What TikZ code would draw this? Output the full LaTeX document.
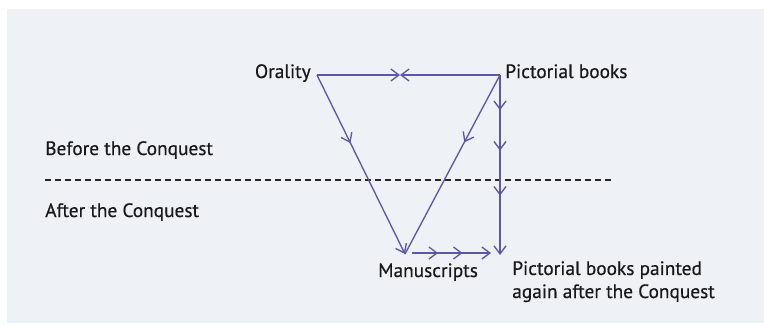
\documentclass[tikz,border=0pt]{standalone}
\usepackage{fontspec}
\setmainfont{PT Sans}[FakeBold=0.5]
\usetikzlibrary{arrows.meta, decorations.markings}
\definecolor{flowline}{RGB}{94,86,166}
\definecolor{paper}{RGB}{238,242,246}
\tikzset{
  barb/.tip={Straight Barb[length=6pt,width=9pt]},
  flow/.style={color=flowline, line width=1pt},
  tipat/.style={postaction={decorate, decoration={markings, mark=at position #1 with {\arrow{barb}}}}},
  txt/.style={inner sep=0pt, anchor=base west, font=\fontsize{14.5}{17.3}\selectfont, text=black!90}
}

\begin{document}
\begin{tikzpicture}[x=0.75pt, y=-0.75pt]
    \useasboundingbox (0,0) rectangle (764,326);
    \fill[paper] (7,9) rectangle (764,323);
    % Points
    \coordinate (orl) at (317,75);
    \coordinate (pic) at (500,75);
    \coordinate (top) at (400,75);
    \coordinate (man) at (405,254);
    \coordinate (mstart) at (412,253);
    \coordinate (mend) at (491,253);
    \coordinate (vend) at (500,255);
    \coordinate (dl) at (45,180);
    \coordinate (dr) at (612,180);
    % Labels
    \node (orality) [txt, anchor=base east] at (311,78) {Orality};
    \node (pictorial) [txt] at (505,78) {Pictorial books};
    \node (before) [txt] at (45,155) {Before the Conquest};
    \node (after) [txt] at (45,217) {After the Conquest};
    \node (manuscripts) [txt] at (378,277) {Manuscripts};
    \node (painted) [txt, align=left, anchor=north west] at (512,261) {Pictorial books painted\\again after the Conquest};
    % Conquest line
    \draw[black!85, line width=1.6pt, dash pattern=on 4.5pt off 3pt] (dl) -- (dr);
    % Arrows
    \draw[flow, -barb] (orl) -- (top);
    \draw[flow, -barb] (pic) -- (top);
    \draw[flow, -barb, tipat=0.38] (orl) -- (man);
    \draw[flow, tipat=0.376] (pic) -- (man);
    \draw[flow, -barb, tipat=0.195, tipat=0.42, tipat=0.67] (pic) -- (vend);
    \draw[flow, -barb, tipat=0.33, tipat=0.64] (mstart) -- (mend);
\end{tikzpicture}
\end{document}
